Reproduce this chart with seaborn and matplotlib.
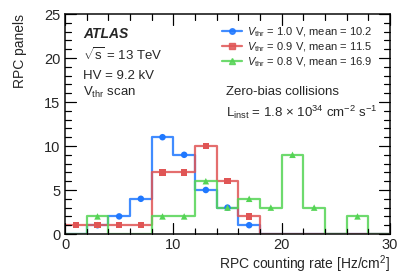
import numpy as np
import pandas as pd
import matplotlib
matplotlib.use("Agg")
import matplotlib.pyplot as plt
from matplotlib.lines import Line2D
from matplotlib.ticker import MultipleLocator
import seaborn as sns

# ---- data (bins of 2 Hz/cm2) ----
bin_edges = list(range(0, 32, 2))
bin_centers = [e + 1 for e in bin_edges[:-1]]
counts_10 = [0, 1, 2, 4, 11, 9, 5, 3, 1, 0, 0, 0, 0, 0, 0]
counts_09 = [1, 1, 1, 1, 7, 7, 10, 6, 2, 0, 0, 0, 0, 0, 0]
counts_08 = [0, 2, 0, 0, 2, 2, 6, 3, 4, 3, 9, 3, 0, 2, 0]
series_labels = ["1.0", "0.9", "0.8"]
series_means = ["10.2", "11.5", "16.9"]

colors = ["#1f78ff", "#e05555", "#55d455"]
markers = ["o", "s", "^"]

rows = []
for lab, cnt in zip(series_labels, [counts_10, counts_09, counts_08]):
    for c, n in zip(bin_centers, cnt):
        rows.append({"rate": float(c), "count": float(n), "vthr": lab})
df = pd.DataFrame(rows)

sns.set_theme(style="ticks")
plt.rcParams['font.family'] = ['Liberation Sans', 'DejaVu Sans']
plt.rcParams['mathtext.fontset'] = 'custom'
plt.rcParams['mathtext.rm'] = 'Liberation Sans'
plt.rcParams['mathtext.it'] = 'Liberation Sans:italic'

fig = plt.figure(figsize=(4.11, 2.79), dpi=100)
ax = fig.add_axes([65 / 411, 1 - 234 / 279, 325 / 411, 220 / 279])

for lab, col, mk in zip(series_labels, colors, markers):
    sub = df[df["vthr"] == lab]
    sns.histplot(data=sub, x="rate", weights="count", bins=bin_edges,
                 element="step", fill=False, color=col, lw=1.6, alpha=0.85, ax=ax)
    nz = sub[sub["count"] > 0]
    sns.scatterplot(data=nz, x="rate", y="count", color=col, marker=mk,
                    s=22, edgecolor="none", ax=ax, zorder=5)

ax.set_xlim(0, 30)
ax.set_ylim(0, 25)
ax.xaxis.set_major_locator(MultipleLocator(10))
ax.xaxis.set_minor_locator(MultipleLocator(2))
ax.yaxis.set_major_locator(MultipleLocator(5))
ax.yaxis.set_minor_locator(MultipleLocator(1))
ax.tick_params(which="both", direction="in", top=True, right=True,
               labelsize=10.5, width=0.8, color="black")
ax.tick_params(which="major", length=8)
ax.tick_params(which="minor", length=4)
ax.tick_params(axis="x", which="major", pad=3)

# inner tick marks drawn as plain lines as well (ROOT-style, all four sides)
xt = ax.get_xaxis_transform()
yt = ax.get_yaxis_transform()
for v in range(0, 31, 2):
    L = 0.05 if v % 10 == 0 else 0.025
    ax.plot([v, v], [0, L], transform=xt, color="black", lw=0.8, clip_on=False, zorder=6)
    ax.plot([v, v], [1, 1 - L], transform=xt, color="black", lw=0.8, clip_on=False, zorder=6)
for v in range(0, 26, 1):
    L = 0.034 if v % 5 == 0 else 0.017
    ax.plot([0, L], [v, v], transform=yt, color="black", lw=0.8, clip_on=False, zorder=6)
    ax.plot([1, 1 - L], [v, v], transform=yt, color="black", lw=0.8, clip_on=False, zorder=6)

ax.set_xlabel("RPC counting rate [Hz/cm$^{2}$]", fontsize=10, loc="right", labelpad=1)
ax.set_ylabel("RPC panels", fontsize=10, loc="top", labelpad=12)

ax.text(0.055, 0.909, "ATLAS", transform=ax.transAxes, fontsize=10,
        fontweight="bold", fontstyle="italic", va="center")
ax.text(0.055, 0.815, r"$\sqrt{\rm s}$ = 13 TeV", transform=ax.transAxes, fontsize=9.5, va="center")
ax.text(0.055, 0.72, "HV = 9.2 kV", transform=ax.transAxes, fontsize=9.5, va="center")
ax.text(0.055, 0.645, r"V$_{\rm thr}$ scan", transform=ax.transAxes, fontsize=9.5, va="center")
ax.text(0.495, 0.645, "Zero-bias collisions", transform=ax.transAxes, fontsize=9.5, va="center")
ax.text(0.495, 0.555, r"L$_{\rm inst}$ = 1.8 $\times$ 10$^{34}$ cm$^{-2}$ s$^{-1}$",
        transform=ax.transAxes, fontsize=9.5, va="center")

handles = [Line2D([], [], color=c, marker=m, lw=1.6, alpha=0.85, markersize=4)
           for c, m in zip(colors, markers)]
labels = [rf"$V_{{\rm thr}}$ = {v} V, mean = {mu}" for v, mu in zip(series_labels, series_means)]
ax.legend(handles, labels, loc="upper left", bbox_to_anchor=(0.47, 0.97), frameon=False,
          fontsize=8, handlelength=1.8, handletextpad=0.4, labelspacing=0.15,
          borderaxespad=0)

fig.savefig("out.png", dpi=100)
